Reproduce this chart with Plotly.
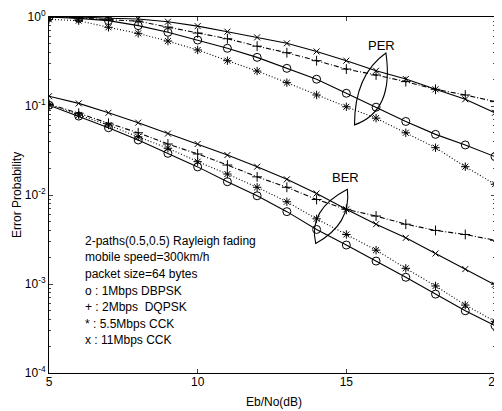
import plotly.graph_objects as go

ebno = list(range(5, 21))

per_1m = [1.0, 0.966, 0.91, 0.80, 0.673, 0.551, 0.445, 0.352, 0.265, 0.2, 0.139, 0.097, 0.067, 0.048, 0.0365, 0.027]
per_2m = [1.0, 0.98, 0.93, 0.9, 0.77, 0.66, 0.57, 0.47, 0.397, 0.323, 0.26, 0.223, 0.188, 0.154, 0.133, 0.112]
per_55m = [0.94, 0.91, 0.766, 0.655, 0.537, 0.426, 0.323, 0.247, 0.183, 0.133, 0.098, 0.073, 0.05, 0.034, 0.0208, 0.0132]
per_11m = [1.0, 1.0, 0.97, 0.95, 0.886, 0.79, 0.684, 0.59, 0.506, 0.41, 0.323, 0.249, 0.201, 0.154, 0.119, 0.084]

ber_1m = [0.102, 0.077, 0.057, 0.0415, 0.0294, 0.0207, 0.0141, 0.0098, 0.0065, 0.0041, 0.00274, 0.00181, 0.00119, 0.00077, 0.0005, 0.00034]
ber_2m = [0.105, 0.083, 0.064, 0.05, 0.0374, 0.0289, 0.0217, 0.016, 0.0122, 0.0089, 0.0069, 0.0058, 0.0047, 0.004, 0.0036, 0.0031]
ber_55m = [0.103, 0.079, 0.061, 0.045, 0.0335, 0.0237, 0.0172, 0.0122, 0.0084, 0.0054, 0.0036, 0.0024, 0.0015, 0.00095, 0.00058, 0.00038]
ber_11m = [0.129, 0.107, 0.084, 0.065, 0.049, 0.0374, 0.0281, 0.0208, 0.015, 0.0104, 0.0069, 0.0047, 0.0033, 0.0022, 0.00147, 0.00098]

x_ticks = [5, 10, 15, 20]
y_ticks = [1e-4, 1e-3, 1e-2, 1e-1, 1e0]
y_ticktext = ["10<sup>-4</sup>", "10<sup>-3</sup>", "10<sup>-2</sup>", "10<sup>-1</sup>", "10<sup>0</sup>"]

info_lines = [
    "2-paths(0.5,0.5) Rayleigh fading",
    "mobile speed=300km/h",
    "packet size=64 bytes",
    "o : 1Mbps DBPSK",
    "+ : 2Mbps &nbsp;DQPSK",
    "* : 5.5Mbps CCK",
    "x : 11Mbps CCK",
]

styles = {
    "1m": dict(symbol="circle-open", size=8, dash="solid"),
    "2m": dict(symbol="cross-thin-open", size=7, dash="5px,2px,1px,2px"),
    "55m": dict(symbol="asterisk-open", size=7, dash="1px,2px"),
    "11m": dict(symbol="x-thin-open", size=6, dash="solid"),
}

series = [
    ("PER 1M", per_1m, "1m"), ("PER 2M", per_2m, "2m"),
    ("PER 5.5M", per_55m, "55m"), ("PER 11M", per_11m, "11m"),
    ("BER 1M", ber_1m, "1m"), ("BER 2M", ber_2m, "2m"),
    ("BER 5.5M", ber_55m, "55m"), ("BER 11M", ber_11m, "11m"),
]

fig = go.Figure()
for name, vals, key in series:
    st = styles[key]
    fig.add_trace(go.Scatter(
        x=ebno, y=vals, name=name, mode="lines+markers",
        line=dict(color="black", width=1.1, dash=st["dash"]),
        marker=dict(symbol=st["symbol"], size=st["size"], color="black",
                    line=dict(color="black", width=1)),
        showlegend=False,
    ))

font = "Liberation Sans, Arial, sans-serif"

# lens-shaped outlines around the PER and BER groups (paper coordinates)
fig.add_shape(type="path", xref="paper", yref="paper",
              path="M 0.685 0.697 Q 0.685 0.837 0.7554 0.8989 Q 0.7744 0.736 0.685 0.697 Z",
              line=dict(color="black", width=1.1))
fig.add_shape(type="path", xref="paper", yref="paper",
              path="M 0.598 0.364 Q 0.580 0.458 0.669 0.516 Q 0.678 0.418 0.598 0.364 Z",
              line=dict(color="black", width=1.1))

fig.add_annotation(text="PER", xref="paper", yref="paper", x=0.745, y=0.921,
                   xanchor="center", yanchor="middle",
                   showarrow=False, font=dict(family=font, size=13, color="black"))
fig.add_annotation(text="BER", xref="paper", yref="paper", x=0.665, y=0.548,
                   xanchor="center", yanchor="middle",
                   showarrow=False, font=dict(family=font, size=13, color="black"))

for i, line in enumerate(info_lines):
    fig.add_annotation(text=line, xref="paper", yref="paper",
                       x=0.076, y=0.371 - i * 0.0465, xanchor="left", yanchor="middle",
                       showarrow=False, font=dict(family=font, size=12, color="black"))

# axis titles
fig.add_annotation(text="Error Probability", xref="paper", yref="paper",
                   x=-0.072, y=0.5, textangle=-90, showarrow=False,
                   xanchor="center", yanchor="middle",
                   font=dict(family=font, size=12, color="black"))
fig.add_annotation(text="Eb/No(dB)", xref="paper", yref="paper",
                   x=0.505, y=-0.082, showarrow=False,
                   xanchor="center", yanchor="middle",
                   font=dict(family=font, size=12, color="black"))

# the page body adds an 8px offset, so the figure is 8px smaller with margins shifted
fig.update_layout(
    width=494, height=403,
    margin=dict(l=41, r=7, t=9, b=38),
    paper_bgcolor="white", plot_bgcolor="white",
    font=dict(family=font, size=12, color="black"),
    xaxis=dict(range=[5, 20], tickvals=x_ticks, ticks="inside", ticklen=4,
               showline=True, linecolor="black", linewidth=1, mirror="ticks",
               showgrid=False, zeroline=False, automargin=False,
               ticklabeloverflow="allow", ticklabelstandoff=-2,
               tickfont=dict(size=12)),
    yaxis=dict(type="log", range=[-4, 0], tickvals=y_ticks, ticktext=y_ticktext,
               ticks="inside", ticklen=4,
               showline=True, linecolor="black", linewidth=1, mirror="ticks",
               showgrid=False, zeroline=False, automargin=False,
               minor=dict(ticks="inside", ticklen=2, dtick="D1", showgrid=False),
               tickfont=dict(size=12)),
)

fig.write_html("out.html")
